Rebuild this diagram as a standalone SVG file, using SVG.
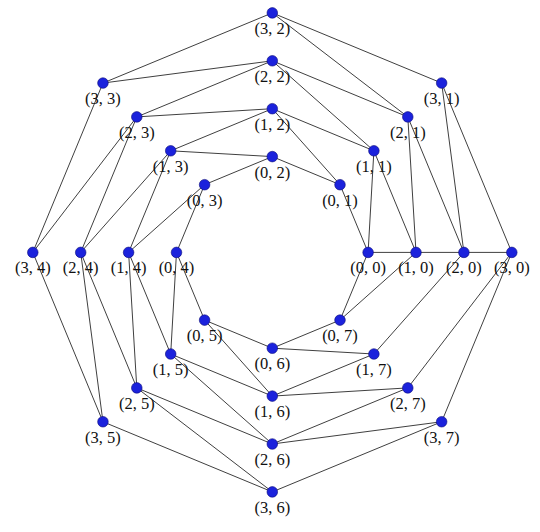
<svg xmlns="http://www.w3.org/2000/svg" width="540" height="532" viewBox="0 0 540 532">
<style>
.e{stroke:#404040;stroke-width:1;fill:none}
.n circle{fill:#1b22dc;stroke:#0a0a7a;stroke-width:0.6}
.n text{font-family:"Liberation Serif","DejaVu Serif",serif;font-size:16.5px;fill:#111;text-anchor:middle}
</style>
<rect width="540" height="532" fill="#fff"/>
<g id="connectors" class="e">
<path d="M368.1,252.4 L340,184.7 L272.3,156.6 L204.6,184.7 L176.5,252.4 L204.6,320.1 L272.3,348.2 L340,320.1 Z"/>
<path d="M511.8,252.4 L441.65,83.05 L272.3,12.9 L102.95,83.05 L32.8,252.4 L102.95,421.75 L272.3,491.9 L441.65,421.75 Z"/>
<path d="M416,252.4 L373.9,150.8 L272.3,108.7 L170.7,150.8 L128.6,252.4 L170.7,354 L272.3,396.1 L373.9,354"/>
<path d="M463.9,252.4 L407.8,116.9 L272.3,60.8 L136.8,116.9 L80.7,252.4 L136.8,387.9 L272.3,444 L407.8,387.9"/>
<path d="M368.1,252.4 L373.9,150.8 M340,184.7 L272.3,108.7 M272.3,156.6 L170.7,150.8 M204.6,184.7 L128.6,252.4 M176.5,252.4 L170.7,354 M204.6,320.1 L272.3,396.1 M272.3,348.2 L373.9,354 M340,320.1 L416,252.4"/>
<path d="M416,252.4 L407.8,116.9 M373.9,150.8 L272.3,60.8 M272.3,108.7 L136.8,116.9 M170.7,150.8 L80.7,252.4 M128.6,252.4 L136.8,387.9 M170.7,354 L272.3,444 M272.3,396.1 L407.8,387.9 M373.9,354 L463.9,252.4"/>
<path d="M463.9,252.4 L441.65,83.05 M407.8,116.9 L272.3,12.9 M272.3,60.8 L102.95,83.05 M136.8,116.9 L32.8,252.4 M80.7,252.4 L102.95,421.75 M136.8,387.9 L272.3,491.9 M272.3,444 L441.65,421.75 M407.8,387.9 L511.8,252.4"/>
<path d="M368.1,252.4 L511.8,252.4"/>
</g>
<g id="n00" class="n"><circle cx="368.1" cy="252.4" r="5.3"/><text x="368.1" y="273.4">(0, 0)</text></g>
<g id="n01" class="n"><circle cx="340" cy="184.7" r="5.3"/><text x="340" y="205.7">(0, 1)</text></g>
<g id="n02" class="n"><circle cx="272.3" cy="156.6" r="5.3"/><text x="272.3" y="177.6">(0, 2)</text></g>
<g id="n03" class="n"><circle cx="204.6" cy="184.7" r="5.3"/><text x="204.6" y="205.7">(0, 3)</text></g>
<g id="n04" class="n"><circle cx="176.5" cy="252.4" r="5.3"/><text x="176.5" y="273.4">(0, 4)</text></g>
<g id="n05" class="n"><circle cx="204.6" cy="320.1" r="5.3"/><text x="204.6" y="341.1">(0, 5)</text></g>
<g id="n06" class="n"><circle cx="272.3" cy="348.2" r="5.3"/><text x="272.3" y="369.2">(0, 6)</text></g>
<g id="n07" class="n"><circle cx="340" cy="320.1" r="5.3"/><text x="340" y="341.1">(0, 7)</text></g>
<g id="n10" class="n"><circle cx="416" cy="252.4" r="5.3"/><text x="416" y="273.4">(1, 0)</text></g>
<g id="n11" class="n"><circle cx="373.9" cy="150.8" r="5.3"/><text x="373.9" y="171.8">(1, 1)</text></g>
<g id="n12" class="n"><circle cx="272.3" cy="108.7" r="5.3"/><text x="272.3" y="129.7">(1, 2)</text></g>
<g id="n13" class="n"><circle cx="170.7" cy="150.8" r="5.3"/><text x="170.7" y="171.8">(1, 3)</text></g>
<g id="n14" class="n"><circle cx="128.6" cy="252.4" r="5.3"/><text x="128.6" y="273.4">(1, 4)</text></g>
<g id="n15" class="n"><circle cx="170.7" cy="354" r="5.3"/><text x="170.7" y="375">(1, 5)</text></g>
<g id="n16" class="n"><circle cx="272.3" cy="396.1" r="5.3"/><text x="272.3" y="417.1">(1, 6)</text></g>
<g id="n17" class="n"><circle cx="373.9" cy="354" r="5.3"/><text x="373.9" y="375">(1, 7)</text></g>
<g id="n20" class="n"><circle cx="463.9" cy="252.4" r="5.3"/><text x="463.9" y="273.4">(2, 0)</text></g>
<g id="n21" class="n"><circle cx="407.8" cy="116.9" r="5.3"/><text x="407.8" y="137.9">(2, 1)</text></g>
<g id="n22" class="n"><circle cx="272.3" cy="60.8" r="5.3"/><text x="272.3" y="81.8">(2, 2)</text></g>
<g id="n23" class="n"><circle cx="136.8" cy="116.9" r="5.3"/><text x="136.8" y="137.9">(2, 3)</text></g>
<g id="n24" class="n"><circle cx="80.7" cy="252.4" r="5.3"/><text x="80.7" y="273.4">(2, 4)</text></g>
<g id="n25" class="n"><circle cx="136.8" cy="387.9" r="5.3"/><text x="136.8" y="408.9">(2, 5)</text></g>
<g id="n26" class="n"><circle cx="272.3" cy="444" r="5.3"/><text x="272.3" y="465">(2, 6)</text></g>
<g id="n27" class="n"><circle cx="407.8" cy="387.9" r="5.3"/><text x="407.8" y="408.9">(2, 7)</text></g>
<g id="n30" class="n"><circle cx="511.8" cy="252.4" r="5.3"/><text x="511.8" y="273.4">(3, 0)</text></g>
<g id="n31" class="n"><circle cx="441.65" cy="83.05" r="5.3"/><text x="441.65" y="104.05">(3, 1)</text></g>
<g id="n32" class="n"><circle cx="272.3" cy="12.9" r="5.3"/><text x="272.3" y="33.9">(3, 2)</text></g>
<g id="n33" class="n"><circle cx="102.95" cy="83.05" r="5.3"/><text x="102.95" y="104.05">(3, 3)</text></g>
<g id="n34" class="n"><circle cx="32.8" cy="252.4" r="5.3"/><text x="32.8" y="273.4">(3, 4)</text></g>
<g id="n35" class="n"><circle cx="102.95" cy="421.75" r="5.3"/><text x="102.95" y="442.75">(3, 5)</text></g>
<g id="n36" class="n"><circle cx="272.3" cy="491.9" r="5.3"/><text x="272.3" y="512.9">(3, 6)</text></g>
<g id="n37" class="n"><circle cx="441.65" cy="421.75" r="5.3"/><text x="441.65" y="442.75">(3, 7)</text></g>
</svg>
